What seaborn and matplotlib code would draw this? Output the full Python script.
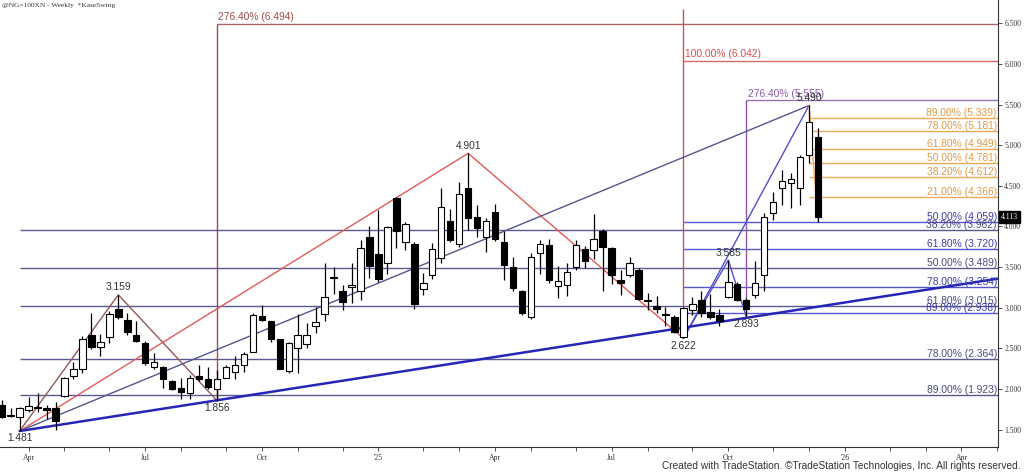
import numpy as np
import pandas as pd
import matplotlib
matplotlib.use("Agg")
import matplotlib.pyplot as plt
import seaborn as sns
from matplotlib.patches import Rectangle

# ---------------- data ----------------
first_bar_date = "2024-03-15"   # weekly bars (Friday dated)
bar_open = [1.80, 1.68, 1.65, 1.74, 1.76, 1.765, 1.76, 1.91, 2.16, 2.24,
            2.66, 2.52, 2.64, 2.98, 2.85, 2.66, 2.57, 2.27, 2.27, 2.10,
            2.01, 1.945, 2.16, 2.12, 1.995, 2.14, 2.21, 2.29, 2.46, 2.90,
            2.83, 2.615, 2.22, 2.50, 2.55, 2.775, 2.92, 3.36, 3.21, 3.25,
            3.21, 3.87, 3.66, 3.555, 4.35, 3.81, 3.785, 3.23, 3.40, 3.61,
            4.07, 3.785, 4.47, 4.12, 3.875, 4.18, 3.81, 3.505, 3.20, 2.88,
            3.67, 3.77, 3.27, 3.28, 3.50, 3.72, 3.71, 3.95, 3.73, 3.34,
            3.40, 3.46, 3.09, 3.025, 2.915, 2.88, 2.64, 2.97, 3.09, 2.95,
            2.91, 3.135, 3.29, 3.095, 3.155, 3.40, 4.17, 4.48, 4.53, 4.47,
            4.88, 5.10]
bar_high = [1.86, 1.76, 1.78, 1.90, 1.95, 1.80, 1.84, 2.15, 2.33, 2.655,
            2.93, 2.68, 2.96, 3.159, 2.94, 2.83, 2.59, 2.445, 2.28, 2.11,
            2.14, 2.17, 2.29, 2.27, 2.23, 2.29, 2.405, 2.46, 2.93, 3.03,
            2.84, 2.62, 2.58, 2.92, 2.815, 3.01, 3.55, 3.50, 3.28, 3.55,
            3.83, 4.01, 4.20, 4.01, 4.36, 4.06, 3.81, 3.43, 3.80, 4.48,
            4.21, 4.55, 4.901, 4.265, 4.10, 4.28, 3.95, 3.62, 3.22, 3.67,
            3.83, 3.84, 3.51, 3.55, 3.83, 3.76, 4.15, 3.965, 3.745, 3.46,
            3.63, 3.485, 3.18, 3.14, 3.01, 2.91, 3.01, 3.135, 3.21, 3.17,
            2.98, 3.585, 3.32, 3.115, 3.57, 4.16, 4.43, 4.70, 4.66, 4.88,
            5.490, 5.21]
bar_low = [1.64, 1.65, 1.481, 1.72, 1.72, 1.63, 1.50, 1.90, 2.12, 2.20,
           2.49, 2.41, 2.57, 2.86, 2.66, 2.58, 2.30, 2.25, 2.01, 1.99,
           1.87, 1.87, 2.10, 1.995, 1.856, 2.13, 2.12, 2.21, 2.46, 2.83,
           2.58, 2.24, 2.19, 2.19, 2.50, 2.685, 2.83, 3.17, 2.97, 3.06,
           3.09, 3.37, 3.32, 3.42, 3.74, 3.71, 2.99, 3.16, 3.35, 3.555,
           3.81, 3.75, 3.96, 3.875, 3.69, 3.825, 3.34, 3.20, 2.91, 2.86,
           3.42, 3.31, 3.12, 3.14, 3.47, 3.485, 3.60, 3.20, 3.29, 3.155,
           3.38, 3.09, 2.97, 2.93, 2.77, 2.685, 2.622, 2.91, 2.88, 2.86,
           2.77, 3.115, 3.085, 2.893, 3.115, 3.20, 4.08, 4.26, 4.23, 4.26,
           4.78, 4.06]
bar_close = [1.655, 1.665, 1.76, 1.79, 1.765, 1.745, 1.61, 2.14, 2.245, 2.62,
             2.52, 2.58, 2.92, 2.88, 2.70, 2.59, 2.315, 2.33, 2.12, 2.00,
             1.96, 2.14, 2.12, 2.02, 2.12, 2.27, 2.30, 2.43, 2.91, 2.85,
             2.62, 2.25, 2.56, 2.66, 2.66, 2.82, 3.13, 3.365, 3.07, 3.28,
             3.74, 3.51, 3.35, 3.99, 3.95, 4.03, 3.045, 3.31, 3.72, 4.24,
             3.83, 4.40, 4.10, 3.98, 4.07, 3.84, 3.525, 3.24, 2.93, 3.63,
             3.79, 3.34, 3.33, 3.44, 3.77, 3.58, 3.84, 3.745, 3.40, 3.31,
             3.555, 3.11, 3.08, 2.99, 2.905, 2.70, 3.00, 3.04, 2.94, 2.89,
             2.83, 3.32, 3.10, 2.99, 3.30, 4.12, 4.305, 4.56, 4.58, 4.85,
             5.29, 4.113]
last_price = "4.113"

# swing points (bar index, price, label)
swing_bars = [2, 13, 24, 52, 76, 81, 83, 90]
swing_prices = [1.481, 3.159, 1.856, 4.901, 2.622, 3.585, 2.893, 5.490]
swing_labels = ["1.481", "3.159", "1.856", "4.901", "2.622", "3.585", "2.893", "5.490"]
swing_is_high = [False, True, False, True, False, True, False, True]

# Fibonacci retracements of 1.481 -> 5.490 (start bar 2)
navy_levels = [3.962, 3.489, 3.015, 2.364, 1.923]
navy_pcts = ["38.20%", "50.00%", "61.80%", "78.00%", "89.00%"]
navy_start = 2
# retracements of 2.622 -> 5.490 (start bar 76)
blue_levels = [4.059, 3.720, 3.254, 2.938]
blue_pcts = ["50.00%", "61.80%", "78.00%", "89.00%"]
blue_start = 76
# retracements of latest swing (start bar 90)
orange_levels = [5.339, 5.181, 4.949, 4.781, 4.612, 4.366]
orange_pcts = ["89.00%", "78.00%", "61.80%", "50.00%", "38.20%", "21.00%"]
orange_start = 90
# projections: (bar, base price, vertical top, level, label)
proj_bars = [24, 76, 83]
proj_base = [1.856, 2.622, 2.893]
proj_vtop = [6.494, 6.675, 5.555]
proj_levels = [6.494, 6.042, 5.555]
proj_pcts = ["276.40%", "100.00%", "276.40%"]
proj_colors = ["#a04a4a", "#d45050", "#8a5aa8"]

# trend line from 1.481 low
trend_bars = [2, 111.07]
trend_prices = [1.481, 3.358]

y_ticks = [1.5, 2.0, 2.5, 3.0, 3.5, 4.0, 4.5, 5.0, 5.5, 6.0, 6.5]

# ---------------- figure ----------------
sns.set_theme(style="white")
plt.rcParams['font.family'] = ['Liberation Sans', 'DejaVu Sans']

W, H = 1024, 473
fig = plt.figure(figsize=(W / 100, H / 100), dpi=100)
fig.patch.set_facecolor("white")
ax = fig.add_axes([0, 26 / H, 998 / W, 447 / H])
ax.set_facecolor("white")
XMIN, XMAX = -0.19, 111.07
YMIN, YMAX = 1.2845, 6.789
ax.set_xlim(XMIN, XMAX)
ax.set_ylim(YMIN, YMAX)

navy_c = "#5a5a90"
blue_c = "#5656cc"
orange_c = "#eeaa5a"
lab_fs = 7.4

# horizontal fib levels
def fib_set(levels, pcts, start, lc, tc):
    for lv, pc in zip(levels, pcts):
        ax.hlines(lv, start, XMAX, color=lc, lw=1.0, zorder=2)
        ax.text(XMAX - 0.12, lv, f"{pc} ({lv:.3f})", ha="right", va="bottom",
                fontsize=lab_fs, color=tc, zorder=6)

fib_set(navy_levels, navy_pcts, navy_start, navy_c, "#4a4a80")
fib_set(blue_levels, blue_pcts, blue_start, blue_c, "#3c3cb0")
fib_set(orange_levels, orange_pcts, orange_start, orange_c, "#e09a48")

# projections
for b, base, vt, lv, pc, c in zip(proj_bars, proj_base, proj_vtop, proj_levels, proj_pcts, proj_colors):
    ax.vlines(b, base, vt, color=c, lw=1.0, zorder=2)
    ax.hlines(lv, b, XMAX, color=c, lw=1.0, zorder=2, alpha=0.85)
    ax.text(b + 0.15, lv + 0.02, f"{pc} ({lv:.3f})", ha="left", va="bottom",
            fontsize=lab_fs, color=c, zorder=6)

# swing / pattern lines via seaborn
seg_rows = []
def add_seg(name, bars, prices):
    for b, p in zip(bars, prices):
        seg_rows.append({"seg": name, "bar": b, "price": p})

add_seg("brown", [2, 13, 24], [1.481, 3.159, 1.856])
add_seg("red", [2, 52, 76], [1.481, 4.901, 2.622])
add_seg("navy", [2, 90], [1.481, 5.490])
add_seg("blue1", [76, 90], [2.622, 5.490])
add_seg("blue2", [76, 81, 83], [2.622, 3.585, 2.893])
add_seg("orange", [90, 91], [5.490, 4.065])
segs = pd.DataFrame(seg_rows)
seg_colors = {"brown": "#945858", "red": "#e05a5a", "navy": "#55558e",
              "blue1": "#5050c8", "blue2": "#5050c8", "orange": "#eeaa5a"}
for name, grp in segs.groupby("seg", sort=False):
    sns.lineplot(data=grp, x="bar", y="price", ax=ax, color=seg_colors[name],
                 lw=1.0, estimator=None, sort=False, zorder=3, legend=False)

trend = pd.DataFrame({"bar": trend_bars, "price": trend_prices})
sns.lineplot(data=trend, x="bar", y="price", ax=ax, color="#2525b8", lw=1.8,
             estimator=None, zorder=4, legend=False)

# candles
bw = 0.72
for k, (o, h, l, c) in enumerate(zip(bar_open, bar_high, bar_low, bar_close)):
    ax.vlines(k, l, h, color="black", lw=0.9, zorder=5)
    up = c >= o
    bot = min(o, c)
    ht = max(abs(c - o), 0.012)
    ax.add_patch(Rectangle((k - bw / 2, bot), bw, ht, facecolor="white" if up else "black",
                           edgecolor="black", lw=0.8, zorder=5))

# swing labels
for b, p, lab, hi in zip(swing_bars, swing_prices, swing_labels, swing_is_high):
    if hi:
        ax.text(b, p + 0.03, lab, ha="center", va="bottom", fontsize=lab_fs, color="#333333", zorder=7)
    else:
        ax.text(b, p - 0.03, lab, ha="center", va="top", fontsize=lab_fs, color="#333333", zorder=7)

# axes styling
for s in ["top", "left"]:
    ax.spines[s].set_visible(False)
for s in ["right", "bottom"]:
    ax.spines[s].set_visible(True)
    ax.spines[s].set_color("#333333")
    ax.spines[s].set_linewidth(0.8)

ax.yaxis.tick_right()
ax.set_yticks(y_ticks)
ax.set_yticklabels([f"{v:.3f}" for v in y_ticks], fontsize=5.5,
                   family=["Liberation Serif", "DejaVu Serif"], color="#333333")
ax.tick_params(axis="y", which="both", right=True, left=False, direction="out",
               length=3, width=0.6, pad=1.5, colors="#333333")

dates = pd.date_range(first_bar_date, periods=112, freq="W-FRI")
tick_pos, tick_lab = [], []
for i in range(1, len(dates)):
    if dates[i].month != dates[i - 1].month:
        tick_pos.append(i)
        m = dates[i].month
        if m in (4, 7, 10):
            tick_lab.append(dates[i].strftime("%b"))
        elif m == 1:
            tick_lab.append("'" + dates[i].strftime("%y"))
        else:
            tick_lab.append("")
ax.set_xticks(tick_pos)
ax.set_xticklabels(tick_lab, fontsize=5.5, family=["Liberation Serif", "DejaVu Serif"], color="#222222")
ax.tick_params(axis="x", which="both", bottom=True, direction="out", length=3,
               width=0.6, pad=2, colors="#333333")
ax.set_xlabel("")
ax.set_ylabel("")
ax.grid(False)

# last price box
ax.text(XMAX + 0.35, float(last_price), last_price, transform=ax.transData, ha="left", va="center",
        fontsize=5.5, family=["Liberation Serif", "DejaVu Serif"], color="white", clip_on=False,
        bbox=dict(boxstyle="square,pad=0.25", facecolor="black", edgecolor="black"), zorder=8)

# title and footer
fig.text(2 / W, 1 - 6 / H, "@NG=100XN - Weekly  *KaseSwing", ha="left", va="center",
         fontsize=5.3, family=["Liberation Serif", "DejaVu Serif"], color="#333333")
fig.text(1021 / W, 1 - 466 / H, "Created with TradeStation. \u00a9TradeStation Technologies, Inc. All rights reserved.",
         ha="right", va="center", fontsize=7.3, color="#333333")

fig.savefig("out.png", dpi=100, facecolor="white")
